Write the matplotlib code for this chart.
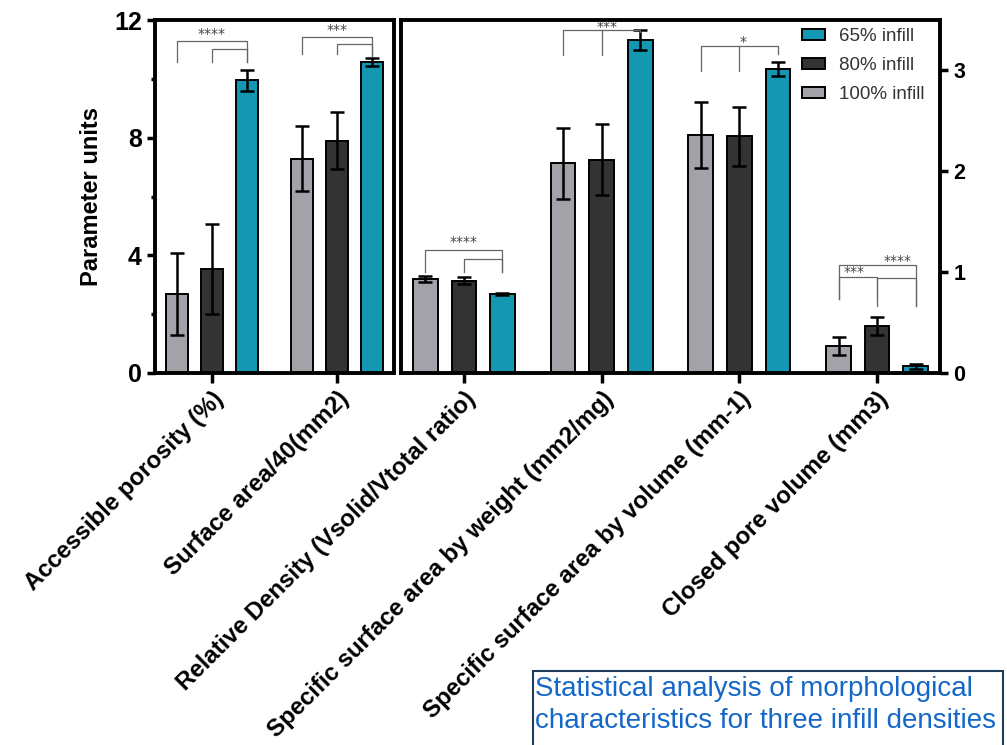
import matplotlib
matplotlib.use("Agg")
import matplotlib.pyplot as plt
from matplotlib.patches import Patch, Rectangle

plt.rcParams['font.family'] = ['Liberation Sans', 'DejaVu Sans']

# categories on the left (0-12) axis and on the right (0-3.5) axis
left_cats = ["Accessible porosity (%)", "Surface area/40(mm2)"]
right_cats = ["Relative Density (Vsolid/Vtotal ratio)",
              "Specific surface area by weight (mm2/mg)",
              "Specific surface area by volume (mm-1)",
              "Closed pore volume (mm3)"]

groups = ["100% infill", "80% infill", "65% infill"]
colors = ["#a3a2a8", "#333333", "#1497b1"]

# means and SD, order: 100%, 80%, 65%
left_means = [[2.68, 7.28], [3.53, 7.90], [9.95, 10.57]]
left_err = [[1.40, 1.10], [1.53, 0.98], [0.35, 0.14]]
right_means = [[0.935, 2.08, 2.36, 0.27], [0.915, 2.115, 2.345, 0.465], [0.785, 3.30, 3.01, 0.065]]
right_err = [[0.03, 0.35, 0.33, 0.09], [0.035, 0.35, 0.29, 0.09], [0.01, 0.10, 0.07, 0.025]]

offsets = [-0.28, 0.0, 0.28]
width = 0.18

fig = plt.figure(figsize=(10.07, 7.45), dpi=100)
ax1 = fig.add_axes([155 / 1007, 1 - 373 / 745, 239 / 1007, 353 / 745])
ax2 = fig.add_axes([401 / 1007, 1 - 373 / 745, 539 / 1007, 353 / 745])


def draw_bars(ax, means, errs):
    for i in range(3):
        xs = [c + offsets[i] for c in range(len(means[i]))]
        ax.bar(xs, means[i], width, color=colors[i], edgecolor="black", linewidth=1.4, zorder=2)
        ax.errorbar(xs, means[i], yerr=errs[i], fmt="none", ecolor="black",
                    elinewidth=1.8, capsize=5, capthick=1.8, zorder=3)


def bracket(ax, x1, x2, y, b1, b2):
    ax.plot([x1, x1, x2, x2], [b1, y, y, b2], color="#666666", lw=0.9, zorder=4)


def stars(ax, x, y, s):
    ax.text(x, y, s, ha="center", va="bottom", fontsize=10, color="#444444",
            family="DejaVu Sans")


draw_bars(ax1, left_means, left_err)
draw_bars(ax2, right_means, right_err)

# significance brackets, left panel
bracket(ax1, -0.28, 0.28, 11.28, 10.57, 10.57)
bracket(ax1, 0.0, 0.28, 11.01, 10.57, 10.57)
stars(ax1, 0.0, 11.3, "****")
bracket(ax1, 1 - 0.28, 1.28, 11.42, 10.84, 10.76)
bracket(ax1, 1.0, 1.28, 11.18, 10.84, 10.76)
stars(ax1, 1.0, 11.43, "***")

# significance brackets, right panel
bracket(ax2, -0.28, 0.28, 1.22, 1.0, 1.0)
bracket(ax2, 0.0, 0.28, 1.13, 1.0, 1.0)
stars(ax2, 0.0, 1.23, "****")
bracket(ax2, 1 - 0.28, 1.28, 3.40, 3.15, 3.38)
ax2.plot([1.0, 1.0], [3.15, 3.40], color="#666666", lw=0.9, zorder=4)
stars(ax2, 1.04, 3.365, "***")
bracket(ax2, 2 - 0.28, 2.28, 3.24, 2.99, 3.16)
ax2.plot([2.0, 2.0], [2.99, 3.24], color="#666666", lw=0.9, zorder=4)
stars(ax2, 2.03, 3.215, "*")
bracket(ax2, 3 - 0.28, 3.0, 0.955, 0.73, 0.73)
bracket(ax2, 3 - 0.28, 3.28, 1.07, 0.73, 0.66)
bracket(ax2, 3.0, 3.28, 0.94, 0.66, 0.66)
stars(ax2, 3 - 0.17, 0.935, "***")
stars(ax2, 3 + 0.15, 1.045, "****")

for ax in (ax1, ax2):
    for sp in ax.spines.values():
        sp.set_linewidth(2.8)
    ax.tick_params(axis="x", length=7, width=2.5, direction="out")
    ax.tick_params(axis="y", length=6, width=2.5, direction="out")

ax1.set_xlim(-0.456, 1.456)
ax1.set_ylim(0, 12)
ax1.set_yticks([0, 4, 8, 12])
ax1.set_yticks([2, 6, 10], minor=True)
ax1.tick_params(axis="y", which="minor", length=3, width=2.5)
ax1.set_xticks(range(len(left_cats)))
ax1.set_xticklabels(left_cats)
for lab in ax1.get_yticklabels():
    lab.set_fontsize(18)
    lab.set_fontweight("bold")
ax1.set_ylabel("Parameter units", fontsize=17, fontweight="bold", labelpad=8)

ax2.set_xlim(-0.457, 3.457)
ax2.set_ylim(0, 3.5)
ax2.yaxis.tick_right()
ax2.set_yticks([0, 1, 2, 3])
ax2.set_xticks(range(len(right_cats)))
ax2.set_xticklabels(right_cats)
for lab in ax2.get_yticklabels():
    lab.set_fontsize(15.5)
    lab.set_fontweight("bold")

for ax in (ax1, ax2):
    for lab in ax.get_xticklabels():
        lab.set_rotation(45)
        lab.set_ha("right")
        lab.set_rotation_mode("anchor")
        lab.set_fontsize(17.3)
        lab.set_fontweight("bold")

handles = [Patch(facecolor=colors[i], edgecolor="black", linewidth=1.4) for i in (2, 1, 0)]
ax2.legend(handles, [groups[i] for i in (2, 1, 0)], loc="upper left",
           bbox_to_anchor=(802 / 1007, 1 - 28 / 745), bbox_transform=fig.transFigure,
           frameon=False, fontsize=13.5, labelcolor="#333333", handlelength=1.2,
           handleheight=0.55, handletextpad=0.75, labelspacing=0.64, borderpad=0,
           borderaxespad=0)

# caption box
fig.patches.append(Rectangle((533 / 1007, -0.05), 470 / 1007, 1 - 671 / 745 + 0.05,
                             transform=fig.transFigure, fill=False,
                             edgecolor="#1f3b5a", linewidth=1.5))
fig.text(535 / 1007, 1 - 676 / 745,
         "Statistical analysis of morphological\ncharacteristics for three infill densities",
         ha="left", va="top", fontsize=20, color="#1568c9", linespacing=1.3)

fig.savefig("out.png", dpi=100)
